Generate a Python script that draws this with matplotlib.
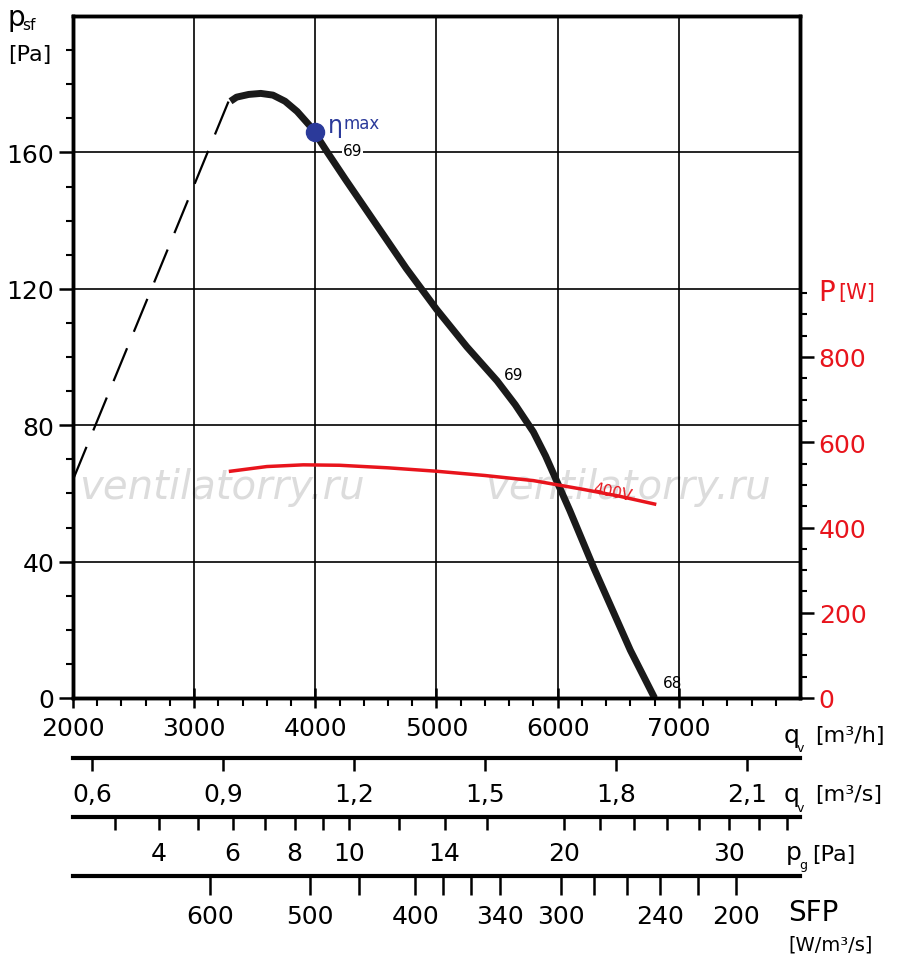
import matplotlib
matplotlib.use("Agg")
import matplotlib.pyplot as plt
import numpy as np

plt.rcParams['font.family'] = ['DejaVu Sans']

# pressure curve (solid part), m3/h vs Pa
q_solid = [3300, 3350, 3450, 3550, 3650, 3750, 3850, 3950, 4000, 4100, 4250, 4500, 4750, 5000, 5250, 5500, 5650, 5800, 5900, 6000, 6100, 6200, 6300, 6400, 6500, 6600, 6700, 6800]
p_solid = [175, 176.2, 177, 177.3, 176.8, 175, 172, 168, 165.5, 160, 152, 139, 126, 114, 103, 93, 86, 78, 71, 63, 55, 46.5, 38, 30, 22, 14, 7, 0]
# dashed unstable part
q_dash = [2000, 3290]
p_dash = [64, 175.5]
# power curve, m3/h vs W
q_pow = [3300, 3600, 3900, 4200, 4600, 5000, 5400, 5800, 6200, 6500, 6800]
P_pow = [532, 543, 547, 546, 540, 532, 522, 510, 490, 474, 455]

eta_q, eta_p = 4000, 166

ms_ticks = [0.6, 0.9, 1.2, 1.5, 1.8, 2.1]
ms_labels = ["0,6", "0,9", "1,2", "1,5", "1,8", "2,1"]
pg_ticks = [3, 4, 5, 6, 7, 8, 9, 10, 12, 14, 16, 20, 22, 24, 26, 28, 30, 32, 34]
pg_labels = {4: "4", 6: "6", 8: "8", 10: "10", 14: "14", 20: "20", 30: "30"}
sfp_q = [3128, 3952, 4364, 4825, 5056, 5287, 5526, 6028, 6300, 6572, 6844, 7157, 7470]
sfp_labels = ["600", "500", "", "400", "", "", "340", "300", "", "", "240", "", "200"]

W, H = 900, 970
fig = plt.figure(figsize=(9, 9.7), dpi=100)
L, R = 73 / W, 800 / W
ax = fig.add_axes([L, (H - 699) / H, R - L, (699 - 17) / H])
ax.set_xlim(2000, 8000)
ax.set_ylim(0, 200)
ax.grid(False)
for x in range(3000, 8000, 1000):
    ax.axvline(x, color='black', lw=1.2, zorder=1)
for y in range(40, 200, 40):
    ax.axhline(y, color='black', lw=1.2, zorder=1)
for s in ax.spines.values():
    s.set_linewidth(2.5)
ax.set_xticks(range(2000, 8000, 1000))
ax.set_xticklabels([str(v) for v in range(2000, 8000, 1000)])
ax.set_xticks(range(2000, 8000, 200), minor=True)
ax.set_yticks(range(0, 200, 40))
ax.set_yticks(range(0, 200, 10), minor=True)
ax.tick_params(axis='x', which='major', direction='inout', length=14, width=1.8, labelsize=18, pad=6)
ax.tick_params(axis='x', which='minor', direction='out', length=6, width=1.5)
ax.tick_params(axis='y', which='major', direction='out', length=10, width=1.8, labelsize=18)
ax.tick_params(axis='y', which='minor', direction='out', length=5, width=1.5)

ax.plot(q_dash, p_dash, color='black', lw=1.6, dashes=(16, 8), zorder=3)
ax.plot(q_solid, p_solid, color='#1a1a1a', lw=5, solid_capstyle='butt', solid_joinstyle='round', zorder=3)
ax.plot(eta_q, eta_p, 'o', color='#2b3a9a', ms=13, zorder=5)
ax.text(4100, 168, "η", color='#2b3a9a', fontsize=17, va='center')
ax.text(4230, 168.5, "max", color='#2b3a9a', fontsize=12, va='center')
ax.text(4230, 160.5, "69", fontsize=11, va='center', ha='left', bbox=dict(fc='white', ec='none', pad=0.5))
ax.text(5560, 95, "69", fontsize=11, va='center')
ax.text(6870, 4.5, "68", fontsize=11, va='center')
for x0 in (2050, 5400):
    ax.text(x0, 62, "ventilatorry.ru", fontsize=29, style='italic', color='#dcdcdc', va='center', zorder=0)

ax2 = ax.twinx()
ax2.set_ylim(0, 1600)
ax2.set_yticks(range(0, 1000, 200))
ax2.set_yticks(range(0, 1000, 50), minor=True)
ax2.tick_params(axis='y', which='major', direction='out', length=10, width=1.8, labelsize=18, colors='black', labelcolor='#e8141c')
ax2.tick_params(axis='y', which='minor', direction='out', length=5, width=1.5)
for s in ax2.spines.values():
    s.set_linewidth(2.5)
ax2.plot(q_pow, P_pow, color='#e8141c', lw=2.5, zorder=4)
ax2.text(6450, 485, "400V", color='#e8141c', fontsize=11, rotation=-12, va='center', ha='center')
fig.text(818 / W, 1 - 293 / H, "P", color='#e8141c', fontsize=20, va='center')
fig.text(838 / W, 1 - 293 / H, "[W]", color='#e8141c', fontsize=15, va='center')

fig.text(8 / W, 1 - 18 / H, "p", fontsize=20, va='center')
fig.text(22 / W, 1 - 25 / H, "sf", fontsize=11, va='center')
fig.text(8 / W, 1 - 55 / H, "[Pa]", fontsize=16, va='center')

def sub_axis(ypix):
    a = fig.add_axes([L, (H - ypix) / H, R - L, 0.0001])
    a.set_xlim(2000, 8000)
    a.set_ylim(0, 1)
    a.set_yticks([])
    for k in ('top', 'left', 'right'):
        a.spines[k].set_visible(False)
    a.spines['bottom'].set_linewidth(3)
    a.patch.set_visible(False)
    return a

a1 = sub_axis(759)
a1.set_xticks([v * 3600 for v in ms_ticks])
a1.set_xticklabels(ms_labels)
a1.tick_params(axis='x', direction='out', length=9, width=1.8, labelsize=18, pad=8)

a2 = sub_axis(818)
a2.set_xticks([1354 * np.sqrt(v) for v in pg_ticks])
a2.set_xticklabels([pg_labels.get(v, "") for v in pg_ticks])
a2.tick_params(axis='x', direction='out', length=9, width=1.8, labelsize=18, pad=8)

a3 = sub_axis(877)
a3.set_xticks(sfp_q)
a3.set_xticklabels(sfp_labels)
a3.tick_params(axis='x', direction='out', length=14, width=1.8, labelsize=18, pad=6)

fig.text(784 / W, 1 - 736 / H, "q", fontsize=18, va='center')
fig.text(797 / W, 1 - 749 / H, "v", fontsize=9, va='center')
fig.text(815 / W, 1 - 736 / H, "[m³/h]", fontsize=16, va='center')
fig.text(784 / W, 1 - 795 / H, "q", fontsize=18, va='center')
fig.text(797 / W, 1 - 808 / H, "v", fontsize=9, va='center')
fig.text(815 / W, 1 - 795 / H, "[m³/s]", fontsize=16, va='center')
fig.text(786 / W, 1 - 853 / H, "p", fontsize=18, va='center')
fig.text(799 / W, 1 - 866 / H, "g", fontsize=9, va='center')
fig.text(812 / W, 1 - 855 / H, "[Pa]", fontsize=16, va='center')
fig.text(788 / W, 1 - 913 / H, "SFP", fontsize=20, va='center')
fig.text(788 / W, 1 - 945 / H, "[W/m³/s]", fontsize=14, va='center')

fig.savefig("out.png", dpi=100)
